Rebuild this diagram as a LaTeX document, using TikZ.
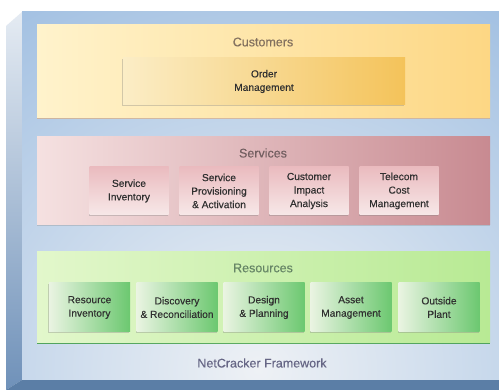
\documentclass[tikz,border=0pt]{standalone}
\usepackage{fontspec}
\setmainfont{Liberation Sans}
\newfontfamily\boxfont[FakeBold=0.35]{Liberation Sans}
\usetikzlibrary{shadows}
\definecolor{frameblue}{HTML}{92B6DE}
\definecolor{framelight}{HTML}{EEF1F5}
\definecolor{sideblue}{HTML}{6F91B9}
\definecolor{bottomblue}{HTML}{5B7EA6}
\definecolor{custL}{HTML}{FFF3CC}
\definecolor{custR}{HTML}{FDD784}
\definecolor{ordL}{HTML}{FBEDC6}
\definecolor{ordR}{HTML}{F4C35A}
\definecolor{servL}{HTML}{F5E1E1}
\definecolor{servR}{HTML}{C88A91}
\definecolor{sboxT}{HTML}{EABBBF}
\definecolor{sboxB}{HTML}{F7E8E8}
\definecolor{resL}{HTML}{E2F7CB}
\definecolor{resR}{HTML}{B8EA94}
\definecolor{rboxT}{HTML}{6CC870}
\definecolor{rboxB}{HTML}{EAF4E2}
\definecolor{txt}{HTML}{303030}
\tikzset{
  band/.style={minimum width=453pt, inner sep=0pt, draw=none},
  title/.style={font=\boxfont\fontsize{12.5}{14}\selectfont, text=#1},
  box/.style={inner sep=0pt, align=center, text=txt,
    font=\boxfont\fontsize{10.2}{13.5}\selectfont,
    drop shadow={shadow xshift=-0.6pt, shadow yshift=-1.2pt, opacity=0.35}},
  sbox/.style={box, minimum width=79pt, minimum height=48pt, top color=sboxT, bottom color=sboxB},
  rbox/.style={box, minimum width=81pt, minimum height=49pt, shading=axis, shading angle=225,
    left color=rboxB, right color=rboxT},
}
\begin{document}
\begin{tikzpicture}[x=1pt,y=-1pt]
\useasboundingbox (0,0) rectangle (499,390);
\fill[white] (0,0) rectangle (499,390);
% frame: left side, bottom face, front face
\shade[top color=framelight!90!frameblue, bottom color=sideblue] (6,26) -- (22,12) -- (22,380) -- (6,390) -- cycle;
\fill[bottomblue] (6,390) -- (22,380) -- (499,380) -- (499,390) -- cycle;
\fill[frameblue] (22,12) rectangle (499,380);
\begin{scope}
  \clip (22,12) rectangle (499,380);
  \shade[inner color=framelight, outer color=frameblue] (258,370) ellipse (560pt and 520pt);
\end{scope}
% bands
\node[band, minimum height=93pt, left color=custL, right color=custR,
  drop shadow={shadow xshift=0pt, shadow yshift=-1.5pt, opacity=0.3, fill=orange}] (cust) at (263.5,71.5) {};
\node[band, minimum height=88pt, left color=servL, right color=servR,
  drop shadow={shadow xshift=0pt, shadow yshift=-1.5pt, opacity=0.3}] (serv) at (263.5,181) {};
\node[band, minimum height=91pt, left color=resL, right color=resR,
  drop shadow={shadow xshift=0pt, shadow yshift=-1.5pt, opacity=0.6, fill=green!50!black}] (res) at (263.5,297.5) {};
% titles
\node[title=brown!40!black!70] (custT) at (263,42) {Customers};
\node[title=servR!40!black!80] (servT) at (263,153) {Services};
\node[title=green!20!black!60] (resT) at (263,268) {Resources};
\node[title=blue!20!black!60] (fwT) at (262,363) {NetCracker Framework};
% customers box
\node[box, minimum width=282pt, minimum height=47pt, left color=ordL, right color=ordR] (order) at (264,81.5) {Order\\Management};
% services boxes
\node[sbox] (sinv) at (129,191) {Service\\Inventory};
\node[sbox] (sprov) at (219,191) {Service\\Provisioning\\\& Activation};
\node[sbox] (cia) at (309,191) {Customer\\Impact\\Analysis};
\node[sbox] (tcm) at (399,191) {Telecom\\Cost\\Management};
% resources boxes
\node[rbox] (rinv) at (89.5,307.5) {Resource\\Inventory};
\node[rbox] (disc) at (177,307.5) {Discovery\\\& Reconciliation};
\node[rbox] (des) at (264,307.5) {Design\\\& Planning};
\node[rbox] (asset) at (351,307.5) {Asset\\Management};
\node[rbox] (op) at (439,307.5) {Outside\\Plant};
\end{tikzpicture}
\end{document}
